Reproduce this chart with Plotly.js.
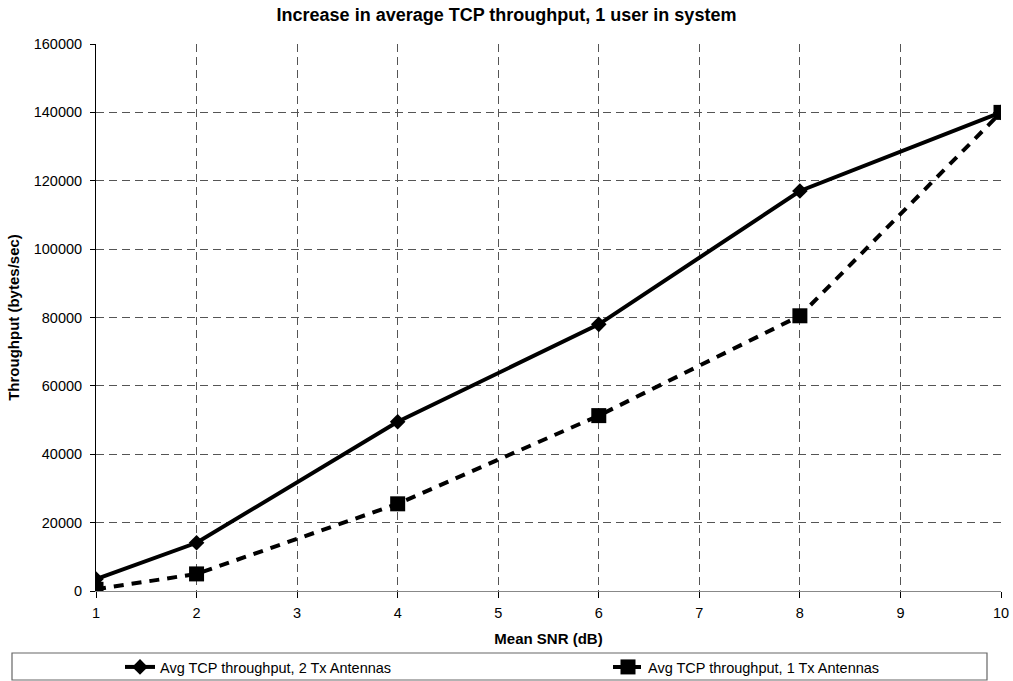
<!DOCTYPE html>
<html>
<head>
<meta charset="utf-8">
<script src="https://cdn.plot.ly/plotly-3.0.1.min.js"></script>
<style>html,body{margin:0;padding:0;background:#fff;}#chart{width:1013px;height:681px;}</style>
</head>
<body>
<div id="chart"></div>
<script>
const snr = [1, 2, 4, 6, 8, 10];
const tput2Tx = [3500, 14100, 49500, 78000, 117000, 140000];
const tput1Tx = [500, 5000, 25500, 51300, 80500, 140000];
const xTicks = [1, 2, 3, 4, 5, 6, 7, 8, 9, 10];
const yTicks = [0, 20000, 40000, 60000, 80000, 100000, 120000, 140000, 160000];
const seriesNames = ['Avg TCP throughput, 2 Tx Antennas', 'Avg TCP throughput, 1 Tx Antennas'];

const font = 'Arial, "Liberation Sans", sans-serif';
const PW = 905, PH = 547; // plot area size in px

const traces = [
  {
    x: snr, y: tput2Tx, name: seriesNames[0], legend: 'legend',
    mode: 'lines+markers', type: 'scatter',
    line: {color: '#000', width: 4},
    marker: {symbol: 'diamond', size: 12, color: '#000'}
  },
  {
    x: snr, y: tput1Tx, name: seriesNames[1], legend: 'legend2',
    mode: 'lines+markers', type: 'scatter',
    line: {color: '#000', width: 4, dash: '10px,8px'},
    marker: {symbol: 'square', size: 15, color: '#000'}
  }
];

const legendCommon = {
  orientation: 'h', xanchor: 'left', yanchor: 'middle',
  y: (591 - 667) / PH,
  bgcolor: 'rgba(0,0,0,0)', borderwidth: 0,
  font: {size: 14.5, family: font, color: '#000'}
};

const layout = {
  width: 1013, height: 681,
  paper_bgcolor: '#fff', plot_bgcolor: '#fff',
  margin: {l: 96, r: 12, t: 44, b: 90, autoexpand: false},
  font: {family: font, size: 14.5, color: '#000'},
  title: {text: '<b>Increase in average TCP throughput, 1 user in system</b>', font: {size: 18, family: font}, x: 0.5, xanchor: 'center', xref: 'container', y: 1 - 15 / 681, yanchor: 'middle'},
  xaxis: {
    range: [1, 10], tickvals: xTicks, ticktext: xTicks.map(String),
    showline: true, linecolor: '#888', linewidth: 1,
    ticks: 'outside', ticklen: 6, tickcolor: '#000',
    showgrid: true, gridcolor: '#555', griddash: '8px,5px', gridwidth: 1,
    zeroline: false, ticklabelstandoff: 3,
    tickfont: {size: 14.5, family: font},
    title: {text: '<b>Mean SNR (dB)</b>', font: {size: 15, family: font}, standoff: 13}
  },
  yaxis: {
    range: [0, 160000], tickvals: yTicks, ticktext: yTicks.map(String),
    showline: true, linecolor: '#000', linewidth: 1,
    ticks: 'outside', ticklen: 5, tickcolor: '#000',
    showgrid: true, gridcolor: '#555', griddash: '8px,5px', gridwidth: 1,
    zeroline: false, ticklabelstandoff: 5,
    tickfont: {size: 14.5, family: font},
    title: {text: '<b>Throughput (bytes/sec)</b>', font: {size: 15, family: font}, standoff: 10}
  },
  showlegend: true,
  legend: Object.assign({}, legendCommon, {x: (120 - 96) / PW}),
  legend2: Object.assign({}, legendCommon, {x: (608 - 96) / PW}),
  shapes: [
    {type: 'rect', xref: 'paper', yref: 'paper',
     x0: (12 - 96) / PW, x1: (987 - 96) / PW,
     y0: (591 - 680) / PH, y1: (591 - 653) / PH,
     line: {color: '#666', width: 1.2}, fillcolor: 'rgba(0,0,0,0)', layer: 'below'}
  ]
};

Plotly.newPlot('chart', traces, layout, {displayModeBar: false, staticPlot: true});
</script>
</body>
</html>
